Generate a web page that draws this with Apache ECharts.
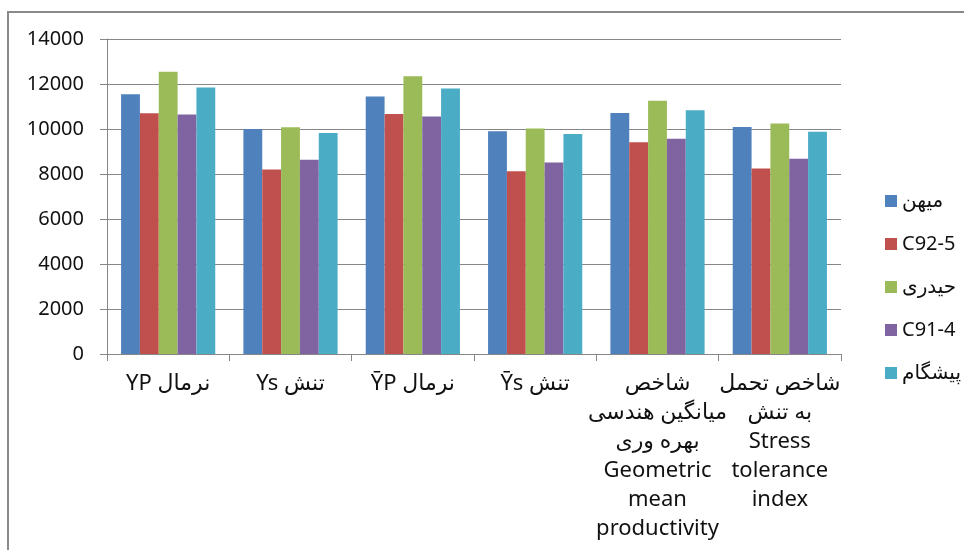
<!DOCTYPE html>
<html>
<head>
<meta charset="utf-8">
<script src="https://cdn.jsdelivr.net/npm/echarts@6/dist/echarts.min.js"></script>
<style>
  html, body { margin: 0; padding: 0; background: #fff; }
  #main { width: 964px; height: 550px; }
</style>
</head>
<body>
<div id="main"></div>
<script>
// categories (written so they read left-to-right as in the picture)
const categories = [
  "YP نرمال",
  "Ys تنش",
  "ȲP نرمال",
  "Ȳs تنش",
  "شاخص\nمیانگین هندسی\nبهره وری\nGeometric\nmean\nproductivity",
  "شاخص تحمل\nبه تنش\nStress\ntolerance\nindex"
];

const seriesNames = ["میهن", "C92-5", "حیدری", "C91-4", "پیشگام"];
const seriesColors = ["#4F81BD", "#C0504D", "#9BBB59", "#8064A2", "#4BACC6"];

const mihan   = [11550, 10000, 11450, 9900, 10710, 10090];
const c925    = [10700, 8200, 10670, 8120, 9410, 8250];
const heydari = [12550, 10080, 12340, 10020, 11260, 10250];
const c914    = [10650, 8630, 10560, 8510, 9570, 8680];
const pishgam = [11850, 9820, 11800, 9780, 10830, 9880];

const seriesData = [mihan, c925, heydari, c914, pishgam];

const font = "'Noto Sans', 'DejaVu Sans', sans-serif";
const gridColor = "#868686";

var chart = echarts.init(document.getElementById("main"));

var option = {
  backgroundColor: "#fff",
  animation: false,
  textStyle: { fontFamily: font },
  graphic: [
    {
      type: "rect",
      shape: { x: 8, y: 12, width: 1000, height: 600 },
      style: { fill: "none", stroke: "#8a8a8a", lineWidth: 2 },
      silent: true
    }
  ],
  grid: {
    left: 107,
    right: 123,
    top: 39,
    bottom: 196
  },
  legend: {
    orient: "vertical",
    left: 880,
    top: 182,
    itemWidth: 12,
    itemHeight: 12,
    itemGap: 15,
    icon: "rect",
    textStyle: { fontSize: 20, lineHeight: 28, color: "#111", fontFamily: font },
    data: seriesNames
  },
  xAxis: {
    type: "category",
    data: categories,
    axisLine: { lineStyle: { color: gridColor, width: 1 } },
    axisTick: { show: true, length: 7, interval: 0, lineStyle: { color: gridColor } },
    axisLabel: {
      interval: 0,
      fontSize: 22,
      lineHeight: 29,
      color: "#111",
      margin: 15,
      fontFamily: font
    }
  },
  yAxis: {
    type: "value",
    min: 0,
    max: 14000,
    interval: 2000,
    axisLine: { show: true, lineStyle: { color: gridColor, width: 1 } },
    axisTick: { show: true, length: 7, lineStyle: { color: gridColor } },
    axisLabel: {
      fontSize: 20,
      color: "#111",
      margin: 23,
      fontFamily: font,
      formatter: function (v) { return String(v); }
    },
    splitLine: { lineStyle: { color: gridColor, width: 1 } }
  },
  series: seriesNames.map(function (name, i) {
    return {
      name: name,
      type: "bar",
      data: seriesData[i],
      barGap: "0%",
      barCategoryGap: "23%",
      itemStyle: { color: seriesColors[i] }
    };
  })
};

chart.setOption(option);
</script>
</body>
</html>
